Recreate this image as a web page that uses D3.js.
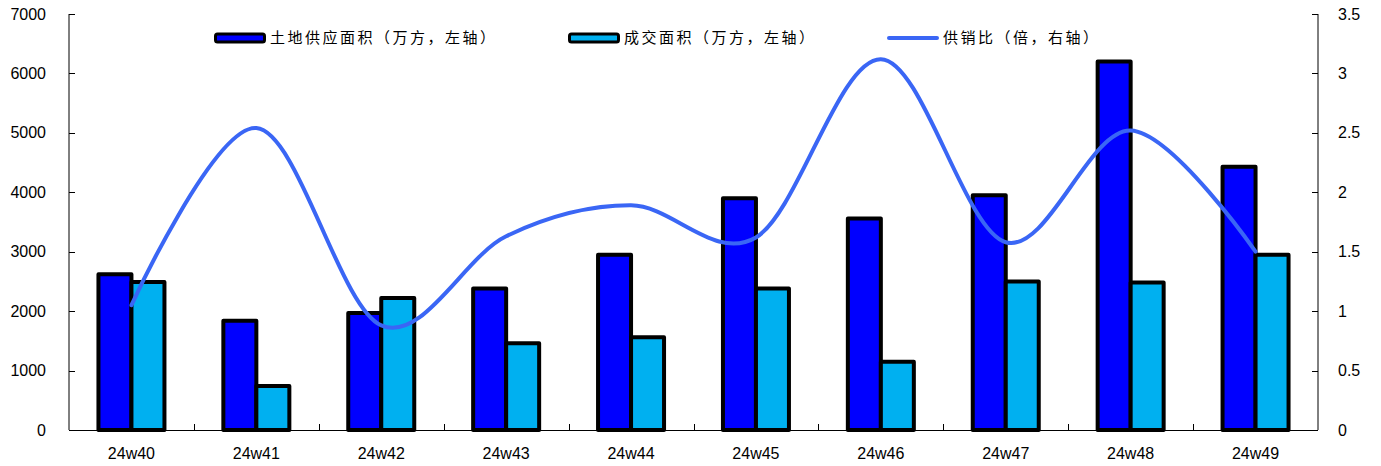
<!DOCTYPE html>
<html><head><meta charset="utf-8">
<script src="https://cdn.jsdelivr.net/npm/d3@7"></script>
<style>body{margin:0;background:#fff}svg{display:block}</style>
</head><body>
<svg id="c" width="1381" height="466"></svg>
<script>
const categories = ["24w40","24w41","24w42","24w43","24w44","24w45","24w46","24w47","24w48","24w49"];
const supply = [2620,1840,1970,2380,2950,3900,3560,3950,6200,4430];
const sales = [2490,740,2220,1460,1560,2380,1150,2500,2480,2950];
const ratio = [1.05,2.54,0.88,1.63,1.89,1.62,3.12,1.58,2.52,1.50];
const leftTicks = [0,1000,2000,3000,4000,5000,6000,7000];
const rightTicks = [0,0.5,1,1.5,2,2.5,3,3.5];
const seriesNames = ["土地供应面积（万方，左轴）","成交面积（万方，左轴）","供销比（倍，右轴）"];

const svg = d3.select("#c");
const L=69, R=1318, T=14, B=430;
const x = d3.scaleBand().domain(categories).range([L,R]);
const yl = d3.scaleLinear().domain([0,7000]).range([B,T]);
const yr = d3.scaleLinear().domain([0,3.5]).range([B,T]);
const font = "'Liberation Sans', Arial, sans-serif";

const bw = 33;
const g = svg.append("g");
categories.forEach((c,i)=>{
  const cx = x(c)+x.bandwidth()/2;
  g.append("rect").attr("x",cx-bw).attr("y",yl(supply[i])).attr("width",bw).attr("height",B-yl(supply[i]))
    .attr("fill","#0000FF").attr("stroke","#000").attr("stroke-width",4).attr("stroke-linejoin","round");
  g.append("rect").attr("x",cx).attr("y",yl(sales[i])).attr("width",bw).attr("height",B-yl(sales[i]))
    .attr("fill","#00B0F0").attr("stroke","#000").attr("stroke-width",4).attr("stroke-linejoin","round");
});

// axes
const ax = svg.append("g").attr("font-family",font);
ax.append("line").attr("x1",L).attr("x2",L).attr("y1",T).attr("y2",B).attr("stroke","#000");
ax.append("line").attr("x1",R).attr("x2",R).attr("y1",T).attr("y2",B).attr("stroke","#000");
ax.append("line").attr("x1",L).attr("x2",R).attr("y1",B+0.5).attr("y2",B+0.5).attr("stroke","#000");
leftTicks.forEach(t=>{
  ax.append("line").attr("x1",L).attr("x2",L+6).attr("y1",Math.round(yl(t))+0.5).attr("y2",Math.round(yl(t))+0.5).attr("stroke","#000");
  ax.append("text").attr("x",46).attr("y",yl(t)).attr("dy","0.35em").attr("text-anchor","end").attr("font-size",16).attr("fill","#000").text(t);
});
rightTicks.forEach(t=>{
  ax.append("line").attr("x1",R-6).attr("x2",R).attr("y1",Math.round(yr(t))+0.5).attr("y2",Math.round(yr(t))+0.5).attr("stroke","#000");
  ax.append("text").attr("x",1338).attr("y",yr(t)).attr("dy","0.35em").attr("text-anchor","start").attr("font-size",16).attr("fill","#000").text(t);
});
categories.forEach((c,i)=>{
  if(i>0) ax.append("line").attr("x1",Math.round(x(c))+0.5).attr("x2",Math.round(x(c))+0.5).attr("y1",B-6).attr("y2",B).attr("stroke","#000");
  ax.append("text").attr("x",x(c)+x.bandwidth()/2).attr("y",453).attr("dy","0.35em").attr("text-anchor","middle").attr("font-size",16).attr("fill","#000").text(c);
});

// line
const line = d3.line().x((d,i)=>x(categories[i])+x.bandwidth()/2).y(d=>yr(d)).curve(d3.curveCardinal.tension(0));
svg.append("path").datum(ratio).attr("d",line).attr("fill","none").attr("stroke","#3A66F5").attr("stroke-width",4).attr("stroke-linecap","round");

// legend
const lg = svg.append("g").attr("font-family","'Noto Sans CJK SC', sans-serif");
const ly = 38;
const items = [{x:214,type:"bar",fill:"#0000FF"},{x:568,type:"bar",fill:"#00B0F0"},{x:887,type:"line"}];
items.forEach((it,i)=>{
  if(it.type==="bar"){
    lg.append("rect").attr("x",it.x+1.5).attr("y",ly-4).attr("width",49).attr("height",8).attr("fill",it.fill).attr("stroke","#000").attr("stroke-width",3).attr("rx",2);
  } else {
    lg.append("line").attr("x1",it.x+2).attr("x2",it.x+50).attr("y1",ly).attr("y2",ly).attr("stroke","#3A66F5").attr("stroke-width",4).attr("stroke-linecap","round");
  }
  lg.append("text").attr("x",it.x+56).attr("y",ly).attr("dy","0.35em").attr("font-size",15).attr("letter-spacing","2.5px").attr("fill","#000").text(seriesNames[i]);
});
</script>
</body></html>
